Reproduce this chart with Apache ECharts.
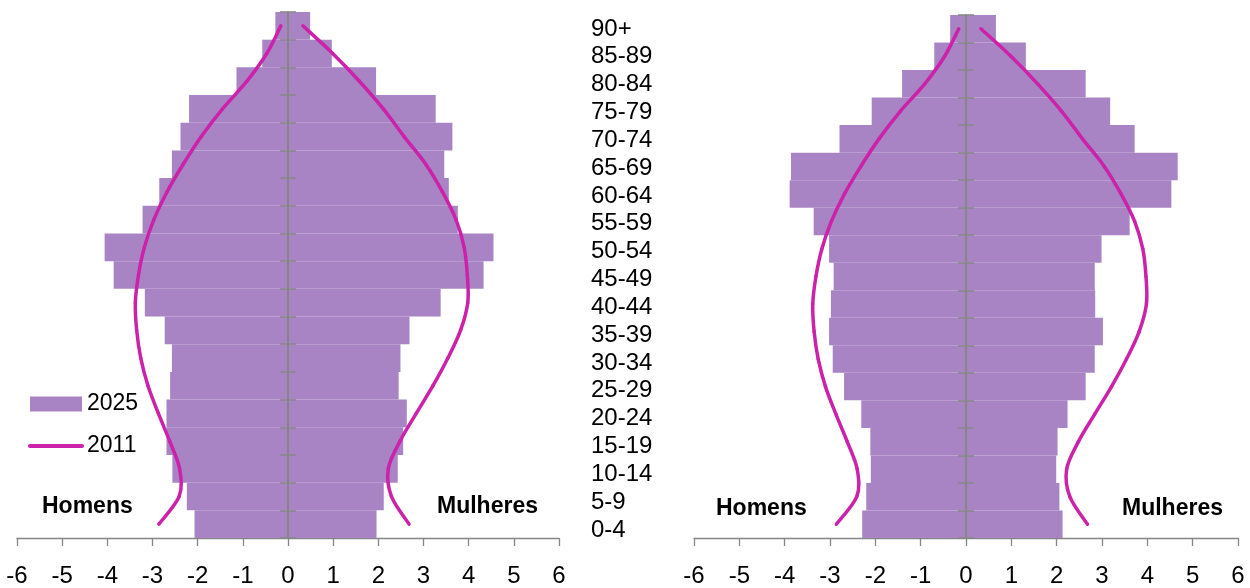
<!DOCTYPE html>
<html>
<head>
<meta charset="utf-8">
<script src="https://cdn.jsdelivr.net/npm/echarts@6/dist/echarts.min.js"></script>
<style>
  html, body { margin: 0; padding: 0; background: #fff; }
  #chart { width: 1250px; height: 588px; }
</style>
</head>
<body>
<div id="chart"></div>
<script>
// faixas etárias, de baixo para cima
const ages = ['0-4', '5-9', '10-14', '15-19', '20-24', '25-29', '30-34', '35-39', '40-44', '45-49',
  '50-54', '55-59', '60-64', '65-69', '70-74', '75-79', '80-84', '85-89', '90+']

// pirâmide esquerda, 2025
const leftMen2025 = [-2.07, -2.24, -2.56, -2.69, -2.69, -2.61, -2.57, -2.73, -3.17, -3.86,
  -4.06, -3.22, -2.85, -2.57, -2.38, -2.19, -1.14, -0.57, -0.28]
const leftWomen2025 = [1.96, 2.12, 2.43, 2.55, 2.63, 2.45, 2.49, 2.69, 3.38, 4.33,
  4.55, 3.76, 3.56, 3.46, 3.64, 3.27, 1.95, 0.97, 0.49]

// pirâmide direita, 2025
const rightMen2025 = [-2.29, -2.20, -2.10, -2.11, -2.31, -2.69, -2.94, -3.02, -2.98, -2.92,
  -3.02, -3.36, -3.89, -3.86, -2.79, -2.08, -1.41, -0.70, -0.35]
const rightWomen2025 = [2.13, 2.06, 1.99, 2.02, 2.24, 2.64, 2.84, 3.02, 2.85, 2.84,
  2.99, 3.61, 4.53, 4.67, 3.72, 3.18, 2.64, 1.32, 0.66]

// 2011 (mesma linha nas duas pirâmides)
const men2011 = [-2.86, -2.41, -2.40, -2.62, -2.87, -3.10, -3.26, -3.35, -3.38, -3.31,
  -3.18, -2.97, -2.68, -2.32, -1.92, -1.45, -0.91, -0.47, -0.16]
const women2011 = [2.68, 2.29, 2.22, 2.48, 2.84, 3.21, 3.54, 3.82, 3.98, 3.97,
  3.90, 3.72, 3.42, 3.05, 2.57, 2.11, 1.58, 0.99, 0.33]

const FONT = 'Liberation Sans'
const BAR = '#a884c4'
const LINE = '#cc22aa'
const AXIS = '#868686'

function xAxis (gridIndex) {
  return {
    type: 'value',
    gridIndex: gridIndex,
    min: -6,
    max: 6,
    interval: 1,
    axisLine: { show: true, onZero: false, lineStyle: { color: AXIS, width: 1.3 } },
    axisTick: { show: true, length: 8, lineStyle: { color: AXIS, width: 1.3 } },
    splitLine: { show: false },
    axisLabel: { color: '#000', fontFamily: FONT, fontSize: 24, margin: 26 }
  }
}

// eixo vertical no zero, com marcas cruzadas (dois eixos sobrepostos)
function yAxis (gridIndex, inside) {
  return {
    type: 'category',
    gridIndex: gridIndex,
    data: ages,
    position: 'left',
    z: 3,
    axisLine: { show: true, onZero: true, onZeroAxisIndex: gridIndex, lineStyle: { color: AXIS, width: 1.5 } },
    axisTick: { show: true, inside: inside, interval: 0, length: 8, lineStyle: { color: AXIS, width: 1.5 } },
    axisLabel: { show: false },
    splitLine: { show: false }
  }
}

function bars (name, data, axis) {
  return {
    name: name,
    type: 'bar',
    xAxisIndex: axis,
    yAxisIndex: axis * 3,
    stack: 'pop' + axis,
    barCategoryGap: '0%',
    itemStyle: { color: BAR },
    data: data
  }
}

// curva suavizada tipo Excel (Catmull-Rom) sobre os pontos do eixo
function curve (values, axis) {
  return {
    name: '2011 curva',
    type: 'custom',
    xAxisIndex: axis,
    yAxisIndex: axis * 3,
    z: 4,
    silent: true,
    data: values.map((v, i) => [v, i]),
    renderItem (params, api) {
      const i = params.dataIndex
      const n = values.length
      if (i >= n - 1) return
      const p = (j) => api.coord([values[Math.max(0, Math.min(n - 1, j))], Math.max(0, Math.min(n - 1, j))])
      const p0 = p(i - 1)
      const p1 = p(i)
      const p2 = p(i + 1)
      const p3 = p(i + 2)
      return {
        type: 'bezierCurve',
        shape: {
          x1: p1[0],
          y1: p1[1],
          cpx1: p1[0] + (p2[0] - p0[0]) / 6,
          cpy1: p1[1] + (p2[1] - p0[1]) / 6,
          cpx2: p2[0] - (p3[0] - p1[0]) / 6,
          cpy2: p2[1] - (p3[1] - p1[1]) / 6,
          x2: p2[0],
          y2: p2[1]
        },
        style: { stroke: LINE, lineWidth: 3.5, lineCap: 'round', fill: null }
      }
    }
  }
}

function label (text, x, y) {
  return {
    type: 'text',
    left: x,
    top: y,
    style: { text: text, fill: '#000', font: 'bold 23px "' + FONT + '"' }
  }
}

const chart = echarts.init(document.getElementById('chart'))
chart.setOption({
  animation: false,
  grid: [
    { left: 17, right: 691, top: 12, bottom: 47 },
    { left: 694, right: 12, top: 15, bottom: 47 },
    // só para os rótulos das idades no meio
    { left: 17, right: 691, top: 15, bottom: 44 }
  ],
  xAxis: [xAxis(0), xAxis(1), { type: 'value', gridIndex: 2, show: false, min: -6, max: 6 }],
  yAxis: [
    yAxis(0, false),
    yAxis(0, true),
    {
      type: 'category',
      gridIndex: 2,
      data: ages,
      position: 'right',
      axisLine: { show: false, onZero: false },
      axisTick: { show: false },
      axisLabel: {
        color: '#000',
        fontFamily: FONT,
        fontSize: 24,
        margin: 32,
        align: 'left',
        interval: 0
      }
    },
    yAxis(1, false),
    yAxis(1, true)
  ],
  legend: {
    left: 28,
    top: 392,
    padding: 0,
    orient: 'vertical',
    itemWidth: 52,
    itemHeight: 15,
    itemGap: 18,
    textStyle: { color: '#000', fontFamily: FONT, fontSize: 23, lineHeight: 24 },
    data: [
      { name: '2025', icon: 'rect' },
      { name: '2011', itemStyle: { opacity: 0 }, lineStyle: { color: LINE, width: 4, cap: 'round' } }
    ]
  },
  graphic: [
    label('Homens', 42, 495),
    label('Mulheres', 437, 495),
    label('Homens', 716, 497),
    label('Mulheres', 1122, 497)
  ],
  series: [
    bars('2025', leftMen2025, 0),
    bars('2025', leftWomen2025, 0),
    // só para a legenda
    {
      name: '2011',
      type: 'line',
      symbol: 'none',
      lineStyle: { color: LINE, width: 4, cap: 'round' },
      itemStyle: { color: LINE },
      data: []
    },
    curve(men2011, 0),
    curve(women2011, 0),
    bars('2025', rightMen2025, 1),
    bars('2025', rightWomen2025, 1),
    curve(men2011, 1),
    curve(women2011, 1)
  ]
})
</script>
</body>
</html>
